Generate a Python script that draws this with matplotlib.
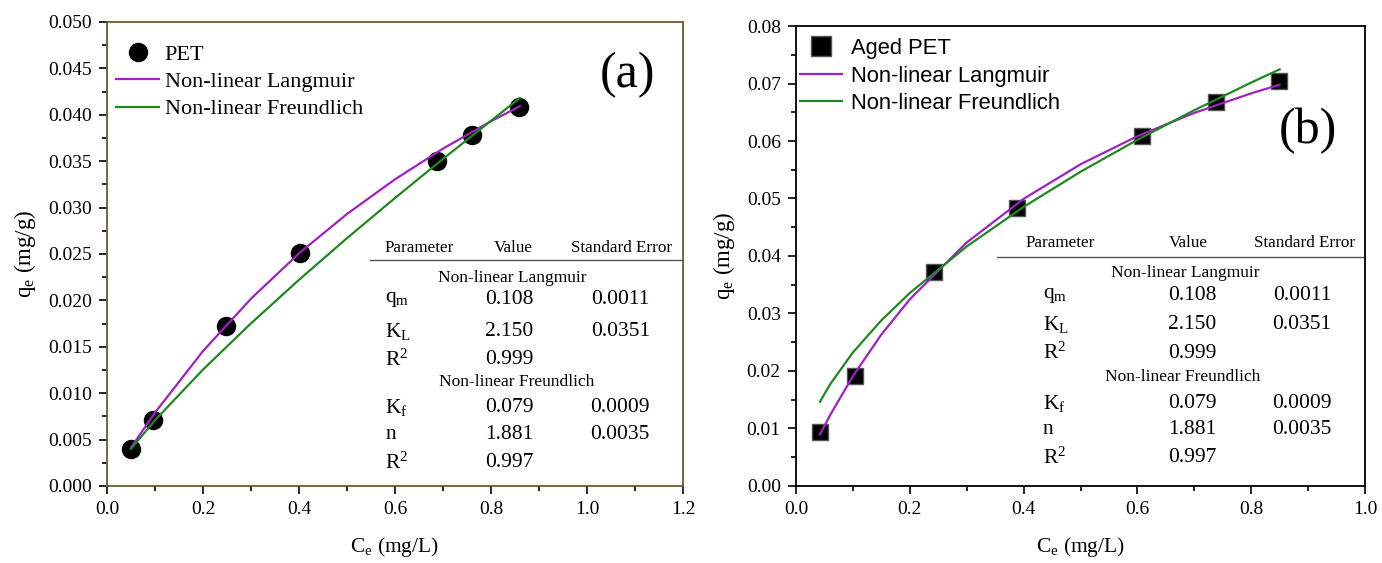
import matplotlib.pyplot as plt
from matplotlib.ticker import MultipleLocator, FormatStrFormatter

plt.rcParams['font.family'] = ['Liberation Serif', 'DejaVu Serif']
plt.rcParams['mathtext.fontset'] = 'custom'
plt.rcParams['mathtext.rm'] = 'Liberation Serif'
plt.rcParams['mathtext.it'] = 'Liberation Serif:italic'

# (a) PET
pet_ce = [0.05, 0.095, 0.248, 0.403, 0.688, 0.76, 0.858]
pet_qe = [0.0040, 0.0071, 0.0172, 0.0251, 0.0350, 0.0378, 0.0408]
pet_fit_ce = [0.05, 0.1, 0.2, 0.3, 0.4, 0.5, 0.6, 0.7, 0.8, 0.86]
pet_lang = [0.00413, 0.00790, 0.01453, 0.02018, 0.02506, 0.02931, 0.03304, 0.03635, 0.03930, 0.04092]
pet_freu = [0.00400, 0.00708, 0.01254, 0.01752, 0.02221, 0.02670, 0.03103, 0.03524, 0.03935, 0.04180]

# (b) Aged PET
aged_ce = [0.042, 0.104, 0.243, 0.388, 0.608, 0.738, 0.848]
aged_qe = [0.0094, 0.0192, 0.0372, 0.0484, 0.0609, 0.0668, 0.0705]
aged_fit_ce = [0.042, 0.06, 0.1, 0.15, 0.2, 0.3, 0.4, 0.5, 0.6, 0.7, 0.8, 0.85]
aged_lang = [0.00895, 0.01234, 0.01911, 0.02634, 0.03247, 0.04235, 0.04994, 0.05595, 0.06084, 0.06489, 0.06829, 0.06980]
aged_freu = [0.01465, 0.01770, 0.02323, 0.02881, 0.03357, 0.04166, 0.04854, 0.05465, 0.06021, 0.06536, 0.07017, 0.07246]

# table (same numbers in both panels)
header = ['Parameter', 'Value', 'Standard Error']
lang_rows = [('q$_\\mathrm{m}$', '0.108', '0.0011'), ('K$_\\mathrm{L}$', '2.150', '0.0351'), ('R$^2$', '0.999', '')]
freu_rows = [('K$_\\mathrm{f}$', '0.079', '0.0009'), ('n', '1.881', '0.0035'), ('R$^2$', '0.997', '')]

purple = '#a020c8'
green = '#1e8a1e'

fig = plt.figure(figsize=(13.82, 5.63), dpi=100)
ax1 = fig.add_axes([0.0774, 0.1368, 0.4168, 0.8242])
ax2 = fig.add_axes([0.576, 0.1368, 0.4117, 0.817])

ax1.plot(pet_ce, pet_qe, 'o', color='black', ms=13, label='PET', zorder=3)
ax1.plot(pet_fit_ce, pet_lang, color=purple, lw=1.6, label='Non-linear Langmuir', zorder=4)
ax1.plot(pet_fit_ce, pet_freu, color=green, lw=1.6, label='Non-linear Freundlich', zorder=4)

ax2.plot(aged_ce, aged_qe, 's', color='black', mec='#555555', ms=12, label='Aged PET', zorder=3)
ax2.plot(aged_fit_ce, aged_lang, color=purple, lw=1.6, label='Non-linear Langmuir', zorder=4)
ax2.plot(aged_fit_ce, aged_freu, color=green, lw=1.6, label='Non-linear Freundlich', zorder=4)

ax1.set_xlim(0, 1.2)
ax1.set_ylim(0, 0.05)
ax1.xaxis.set_major_locator(MultipleLocator(0.2))
ax1.xaxis.set_minor_locator(MultipleLocator(0.1))
ax1.yaxis.set_major_locator(MultipleLocator(0.005))
ax1.yaxis.set_minor_locator(MultipleLocator(0.0025))
ax1.yaxis.set_major_formatter(FormatStrFormatter('%.3f'))
ax1.xaxis.set_major_formatter(FormatStrFormatter('%.1f'))

ax2.set_xlim(0, 1.0)
ax2.set_ylim(0, 0.08)
ax2.xaxis.set_major_locator(MultipleLocator(0.2))
ax2.xaxis.set_minor_locator(MultipleLocator(0.1))
ax2.yaxis.set_major_locator(MultipleLocator(0.01))
ax2.yaxis.set_minor_locator(MultipleLocator(0.005))
ax2.yaxis.set_major_formatter(FormatStrFormatter('%.2f'))
ax2.xaxis.set_major_formatter(FormatStrFormatter('%.1f'))

for ax in (ax1, ax2):
    ax.tick_params(which='major', direction='out', length=6, width=1.2, labelsize=14, pad=5)
    ax.tick_params(which='minor', direction='out', length=3.5, width=1.2)
    ax.set_xlabel('C$_\\mathrm{e}$ (mg/L)', fontsize=15.5, labelpad=12)
    ax.set_ylabel('q$_\\mathrm{e}$ (mg/g)', fontsize=16.5, labelpad=7)

for s in ax1.spines.values():
    s.set_color('#6b5a2c')
    s.set_linewidth(1.3)
for s in ax2.spines.values():
    s.set_color('black')
    s.set_linewidth(1.3)

ax1.legend(loc='upper left', bbox_to_anchor=(0.0, 0.971), frameon=False, fontsize=16,
           handlelength=1.95, handletextpad=0.25, labelspacing=0.3, borderaxespad=0)
ax2.legend(loc='upper left', bbox_to_anchor=(-0.009, 0.993), frameon=False, handlelength=1.95,
           handletextpad=0.4, labelspacing=0.3, borderaxespad=0, markerscale=1.15,
           prop={'family': 'Liberation Sans', 'size': 15.8})

ax1.text(0.903, 0.886, '(a)', transform=ax1.transAxes, fontsize=36, ha='center', va='center')
ax2.text(0.90, 0.772, '(b)', transform=ax2.transAxes, fontsize=36, ha='center', va='center')


def draw_table(ax, line, head_y, head_x, sub_pos, row_ys, lab_x, val_x, err_x):
    ax.plot([line[0], 1.0], [line[1], line[1]], color='#555555', lw=1,
            transform=ax.transAxes, clip_on=False)
    for t, x in zip(header, head_x):
        ax.text(x, head_y, t, transform=ax.transAxes, fontsize=12.3, ha='center', va='center')
    for t, (x, y) in zip(['Non-linear Langmuir', 'Non-linear Freundlich'], sub_pos):
        ax.text(x, y, t, transform=ax.transAxes, fontsize=12.5, ha='center', va='center')
    for (lab, val, err), y in zip(lang_rows + freu_rows, row_ys):
        ax.text(lab_x, y, lab, transform=ax.transAxes, fontsize=15.5, ha='left', va='center')
        ax.text(val_x, y, val, transform=ax.transAxes, fontsize=15.5, ha='center', va='center')
        ax.text(err_x, y, err, transform=ax.transAxes, fontsize=15.5, ha='center', va='center')


draw_table(ax1, (0.457, 0.487), 0.513, [0.543, 0.705, 0.894],
           [(0.703, 0.448), (0.712, 0.224)],
           [0.401, 0.332, 0.272, 0.170, 0.110, 0.050], 0.483, 0.698, 0.891)
draw_table(ax2, (0.353, 0.498), 0.528, [0.464, 0.689, 0.893],
           [(0.684, 0.463), (0.680, 0.237)],
           [0.415, 0.350, 0.289, 0.180, 0.122, 0.061], 0.434, 0.696, 0.889)

fig.savefig('out.png', dpi=100)
